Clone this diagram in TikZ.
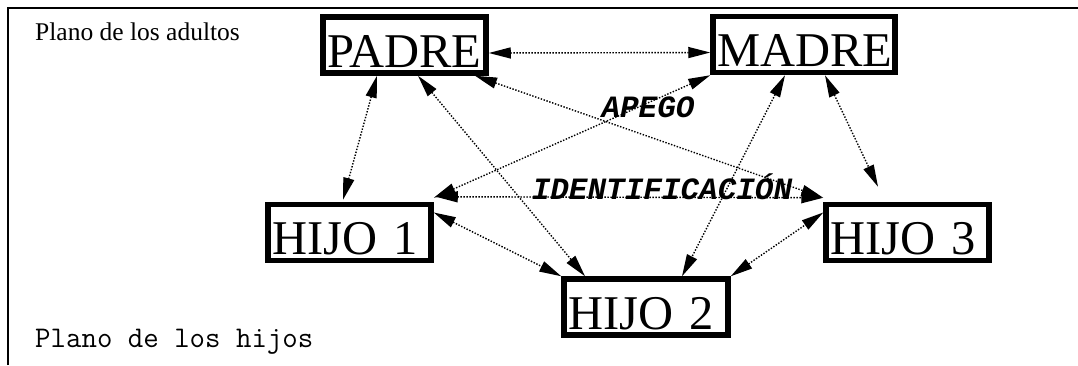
\documentclass[tikz,border=0pt]{standalone}
\usepackage{fontspec}
\setmainfont{Liberation Serif}
\setmonofont{Liberation Mono}
\newfontfamily\lmmono{Latin Modern Mono}
\usetikzlibrary{arrows.meta}
\begin{document}
\begin{tikzpicture}[x=1pt,y=-1pt,
  famibox/.style={draw,line width=5.5pt,inner xsep=4pt,inner ysep=0pt,
    text height=50pt,text depth=6pt,align=left,
    font=\fontsize{48.5}{48.5}\selectfont},
  rel/.style={line width=1.4pt,dash pattern=on 1.4pt off 1.6pt,
    {Triangle[length=22pt,width=11pt]}-{Triangle[length=22pt,width=11pt]}},
  lbl/.style={font=\fontsize{31}{31}\selectfont\ttfamily\bfseries\itshape,inner sep=0pt}]
\useasboundingbox (0,0) rectangle (1078,365);
\draw[line width=1.5pt] (8,365) -- (8,8) -- (1078,8);
\node[anchor=base west,inner sep=0pt,font=\fontsize{25.5}{25.5}\selectfont] (ta) at (35,40) {Plano de los adultos};
\node[anchor=base west,inner sep=0pt,font=\fontsize{30}{30}\selectfont\lmmono] (th) at (35,347) {Plano de los hijos};
\node[famibox,text width=155pt] (P) at (404.5,45) {PADRE};
\node[famibox,text width=174pt] (M) at (804,44.5) {MADRE};
\node[famibox,text width=155pt] (H1) at (349.5,232.5) {HIJO 1};
\node[famibox,text width=156pt] (H2) at (646,307) {HIJO 2};
\node[famibox,text width=155pt] (H3) at (907.5,232.5) {HIJO 3};
\draw[rel] ([yshift=-8pt]P.east) -- ([yshift=-8pt]M.west);
\draw[rel] ([xshift=-27.5pt]P.south) -- ([xshift=-6.5pt,yshift=2pt]H1.north);
\draw[rel] ([xshift=13.5pt]P.south) -- ([xshift=-61pt]H2.north);
\draw[rel] ([xshift=70.5pt]P.south) -- ([yshift=4pt]H3.north west);
\draw[rel] (M.south west) -- ([yshift=4pt]H1.north east);
\draw[rel] ([xshift=-19pt]M.south) -- ([xshift=36pt]H2.north);
\draw[rel] ([xshift=21pt]M.south) -- ([xshift=-29.5pt,yshift=15pt]H3.north);
\draw[rel] ([xshift=2pt,yshift=5pt]H1.north east) -- ([yshift=4pt]H3.north west);
\draw[rel] ([yshift=20pt]H1.east) -- (H2.north west);
\draw[rel] (H2.north east) -- ([yshift=20pt]H3.west);
\node[lbl] (apego) at (648,107) {APEGO};
\node[lbl] (ident) at (662,187) {IDENTIFICACIÓN};
\end{tikzpicture}
\end{document}
